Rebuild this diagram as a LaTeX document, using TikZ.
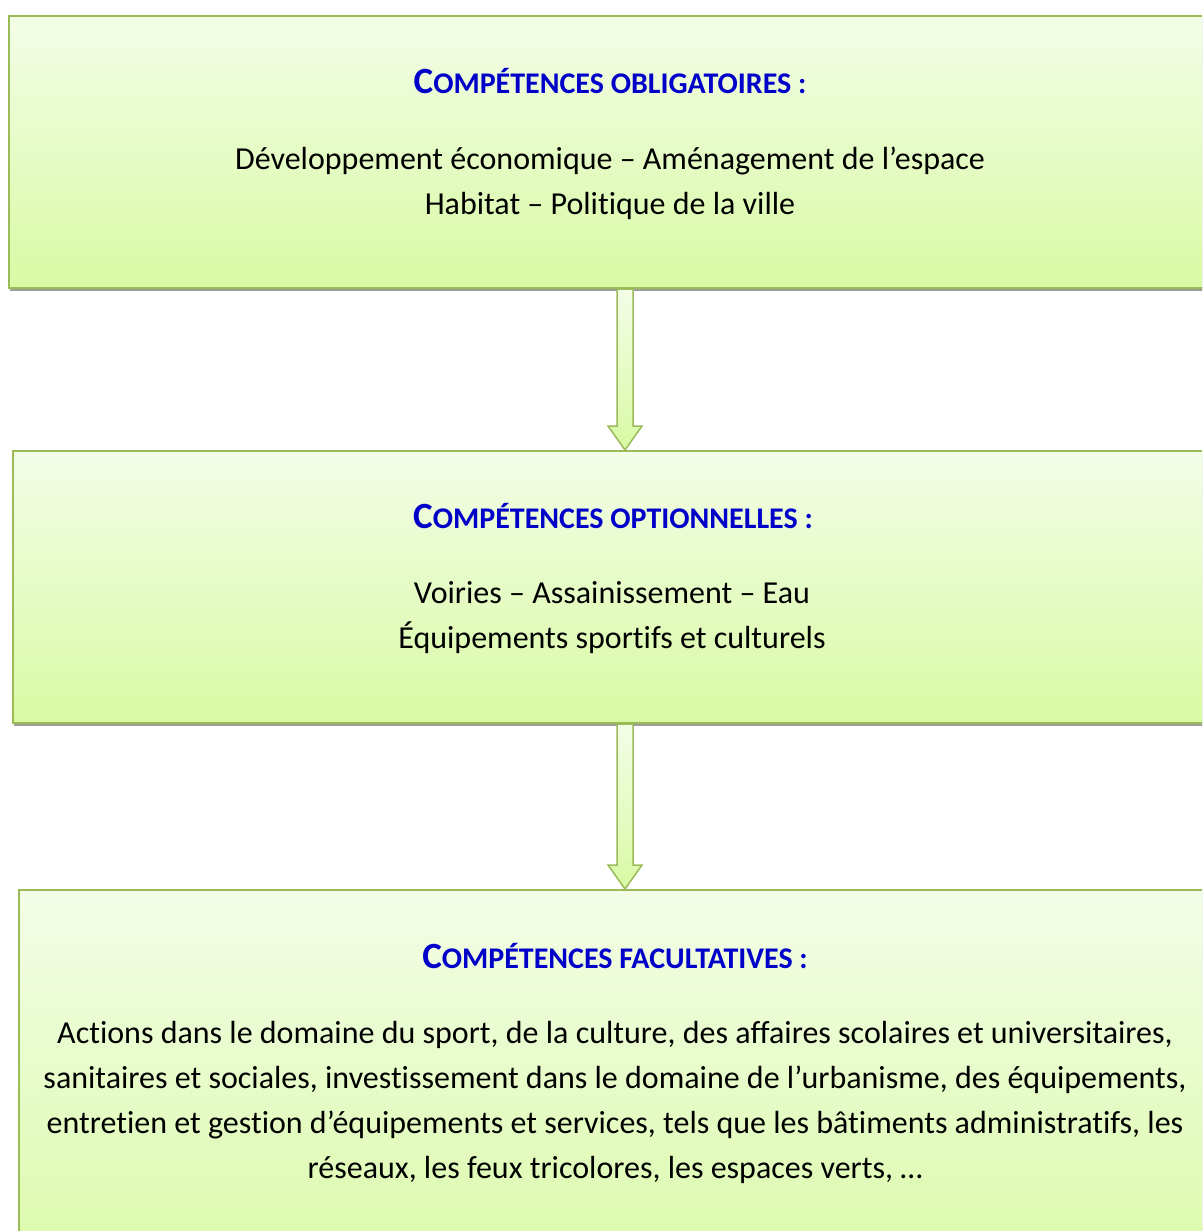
\documentclass[tikz,border=0pt]{standalone}
\usepackage{fontspec}
\setmainfont{Carlito}[Ligatures={NoCommon}]
\usetikzlibrary{shadows,calc}

\definecolor{boxtop}{RGB}{243,253,231}
\definecolor{boxbot}{RGB}{216,250,164}
\definecolor{boxedge}{RGB}{155,187,89}
\definecolor{titleblue}{RGB}{0,0,200}

\tikzset{
  compbox/.style={draw=boxedge, line width=2pt, top color=boxtop, bottom color=boxbot,
    anchor=north west, minimum width=1260pt, inner sep=0pt,
    drop shadow={shadow xshift=1pt, shadow yshift=-3pt, opacity=1, fill=black!38}},
  comptitle/.style={text=titleblue, anchor=base, inner sep=0pt},
  comptext/.style={font=\fontsize{32}{45}\selectfont, align=center, inner sep=0pt},
  flowarrow/.style={draw=boxedge, line width=1.5pt, top color=boxtop, bottom color=boxbot}
}

% small caps done by hand: first letter big, the rest smaller
\newcommand{\capstitle}[2]{\bfseries{\fontsize{37}{40}\selectfont #1}{\fontsize{30}{34}\selectfont #2}}

% hollow block arrow between two points on the same vertical
\newcommand{\blockarrow}[2]{
  \path[flowarrow] let \p1=(#1), \p2=(#2) in
    (\x1-8pt,\y1) -- (\x1-8pt,\y2+24pt) -- (\x1-17pt,\y2+24pt) -- (\x2,\y2)
    -- (\x1+17pt,\y2+24pt) -- (\x1+8pt,\y2+24pt) -- (\x1+8pt,\y1) -- cycle;
}

\begin{document}
\begin{tikzpicture}[x=1pt,y=-1pt]
  \clip (0,0) rectangle (1202,1231);

  % the three boxes
  \node[compbox, minimum height=272pt] (oblig) at (8,15) {};
  \node[compbox, minimum height=272pt] (option) at (12,450) {};
  \node[compbox, minimum height=420pt] (facult) at (18,889) {};

  \coordinate (axis) at (625,0);

  % arrows
  \blockarrow{oblig.south -| axis}{option.north -| axis}
  \blockarrow{option.south -| axis}{facult.north -| axis}

  % texts
  \node[comptitle] (obligtitle) at (610,93) {\capstitle{C}{OMPÉTENCES OBLIGATOIRES :}};
  \node[comptext] (obligtext) at (610,183) {Développement économique – Aménagement de l’espace\\
    Habitat – Politique de la ville};

  \node[comptitle] (optiontitle) at (613,528) {\capstitle{C}{OMPÉTENCES OPTIONNELLES :}};
  \node[comptext] (optiontext) at (612,618) {Voiries – Assainissement – Eau\\
    Équipements sportifs et culturels};

  \node[comptitle] (facultitle) at (615,968) {\capstitle{C}{OMPÉTENCES FACULTATIVES :}};
  \node[comptext] (facultext) at (615,1102) {Actions dans le domaine du sport, de la culture, des affaires scolaires et universitaires,\\
    sanitaires et sociales, investissement dans le domaine de l’urbanisme, des équipements,\\
    entretien et gestion d’équipements et services, tels que les bâtiments administratifs, les\\
    réseaux, les feux tricolores, les espaces verts, …};
\end{tikzpicture}
\end{document}
